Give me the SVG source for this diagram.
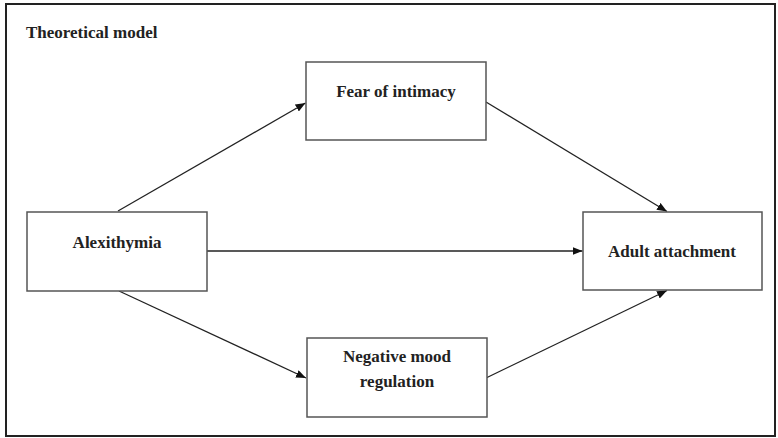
<svg xmlns="http://www.w3.org/2000/svg" width="778" height="438" viewBox="0 0 778 438">
<defs>
<style>
.box{fill:#fff;stroke:#555;stroke-width:1.5}
.lbl{font-family:"Liberation Serif","Times New Roman",serif;font-weight:bold;font-size:17px;fill:#222;text-anchor:middle}
.edge{stroke:#222;stroke-width:1.3;fill:none;marker-end:url(#ah)}
</style>
<marker id="ah" viewBox="0 0 10 8" refX="10" refY="4" markerWidth="10" markerHeight="8" markerUnits="userSpaceOnUse" orient="auto">
<path d="M0,0 L10,4 L0,8 Z" fill="#111"/>
</marker>
</defs>
<rect x="0" y="0" width="778" height="438" fill="#fff"/>
<rect x="6" y="4" width="769" height="432" fill="none" stroke="#222" stroke-width="2"/>
<text x="26" y="38" style="font-family:'Liberation Serif','Times New Roman',serif;font-weight:bold;font-size:17px;fill:#222">Theoretical model</text>
<g id="connectors">
<line class="edge" x1="118" y1="211" x2="305.5" y2="103"/>
<line class="edge" x1="486" y1="102" x2="667" y2="211.5"/>
<line class="edge" x1="207" y1="251" x2="582.5" y2="251"/>
<line class="edge" x1="119" y1="291" x2="306" y2="378"/>
<line class="edge" x1="486" y1="378" x2="667" y2="290.5"/>
</g>
<g id="fear">
<rect class="box" x="306" y="62" width="180" height="78"/>
<text class="lbl" x="396" y="97">Fear of intimacy</text>
</g>
<g id="alexithymia">
<rect class="box" x="27" y="212" width="180" height="79"/>
<text class="lbl" x="117" y="248">Alexithymia</text>
</g>
<g id="adult">
<rect class="box" x="583" y="212" width="179" height="78"/>
<text class="lbl" x="672" y="257">Adult attachment</text>
</g>
<g id="negative">
<rect class="box" x="307" y="338" width="180" height="79"/>
<text class="lbl" x="397" y="362">Negative mood</text>
<text class="lbl" x="397" y="387">regulation</text>
</g>
</svg>
